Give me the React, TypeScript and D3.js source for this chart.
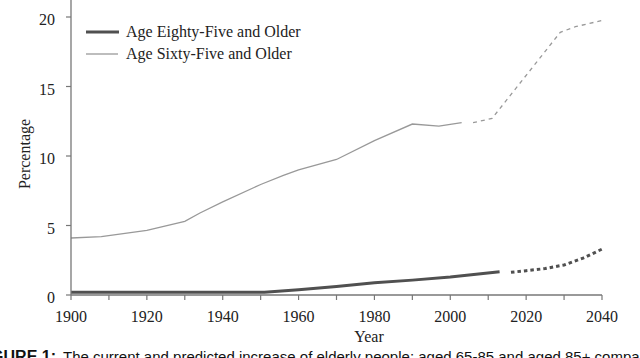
import React from "react";
import * as d3 from "d3";

// percentage of population
const years65 = [1900, 1908, 1920, 1930, 1934, 1940, 1950, 1956, 1960, 1970, 1980, 1990, 1997, 2003];
const values65 = [4.1, 4.2, 4.65, 5.3, 5.9, 6.7, 7.95, 8.6, 9.0, 9.75, 11.1, 12.3, 12.15, 12.4];
const projYears65 = [2006, 2011, 2029, 2033, 2040];
const projValues65 = [12.4, 12.7, 18.9, 19.3, 19.75];

const years85 = [1900, 1951, 1960, 1970, 1980, 1990, 2000, 2013];
const values85 = [0.2, 0.2, 0.38, 0.62, 0.88, 1.07, 1.3, 1.68];
const projYears85 = [2016, 2020, 2025, 2030, 2035, 2040];
const projValues85 = [1.63, 1.75, 1.9, 2.16, 2.65, 3.3];

const xTicks = [1900, 1910, 1920, 1930, 1940, 1950, 1960, 1970, 1980, 1990, 2000, 2010, 2020, 2030, 2040];
const xLabels = [1900, 1920, 1940, 1960, 1980, 2000, 2020, 2040];
const yTicks = [0, 5, 10, 15, 20];

const legendLabels = ["Age Eighty-Five and Older", "Age Sixty-Five and Older"];

export default function App() {
  const width = 640;
  const height = 358;
  const x = d3.scaleLinear().domain([1900, 2040]).range([71, 602]);
  const y = d3.scaleLinear().domain([0, 20]).range([295, 17]);

  const toPts = (xs: number[], vs: number[]) => xs.map((yr, i) => [yr, vs[i]] as [number, number]);
  const line = d3
    .line<[number, number]>()
    .x((d) => x(d[0]))
    .y((d) => y(d[1]));

  const serif = "'Liberation Serif', 'Times New Roman', serif";
  const sans = "'Liberation Sans', Arial, sans-serif";
  const axisColor = "#777";

  return (
    <svg
      width={width}
      height={height}
      style={{ position: "absolute", left: 0, top: 0, background: "#fff" }}
    >
      {/* series */}
      <path d={line(toPts(years65, values65)) || ""} fill="none" stroke="#999" strokeWidth={1.3} />
      <path
        d={line(toPts(projYears65, projValues65)) || ""}
        fill="none"
        stroke="#999"
        strokeWidth={1.3}
        strokeDasharray="4 4"
      />
      <path d={line(toPts(years85, values85)) || ""} fill="none" stroke="#505050" strokeWidth={3} />
      <path
        d={line(toPts(projYears85, projValues85)) || ""}
        fill="none"
        stroke="#505050"
        strokeWidth={3}
        strokeDasharray="3.5 3"
      />

      {/* axes */}
      <line x1={x(1900)} x2={x(1900)} y1={0} y2={y(0)} stroke={axisColor} strokeWidth={1.3} />
      <line x1={x(1900)} x2={x(2040)} y1={y(0)} y2={y(0)} stroke={axisColor} strokeWidth={1.3} />
      {yTicks.map((t) => (
        <g key={"y" + t}>
          <line x1={x(1900) - 5} x2={x(1900)} y1={y(t)} y2={y(t)} stroke={axisColor} strokeWidth={1.2} />
          <text x={55} y={y(t) + 8} textAnchor="end" fontFamily={serif} fontSize={16} fill="#222">
            {t}
          </text>
        </g>
      ))}
      {xTicks.map((t) => (
        <line key={"x" + t} x1={x(t)} x2={x(t)} y1={y(0)} y2={y(0) + 5} stroke={axisColor} strokeWidth={1.2} />
      ))}
      {xLabels.map((t) => (
        <text key={"xl" + t} x={x(t)} y={322} textAnchor="middle" fontFamily={serif} fontSize={16} fill="#222">
          {t}
        </text>
      ))}
      <text x={369} y={342} textAnchor="middle" fontFamily={serif} fontSize={16} fill="#222">
        Year
      </text>
      <text
        transform="translate(30,154) rotate(-90)"
        textAnchor="middle"
        fontFamily={serif}
        fontSize={16}
        fill="#222"
      >
        Percentage
      </text>

      {/* legend */}
      <line x1={86} x2={119} y1={32} y2={32} stroke="#505050" strokeWidth={3} />
      <text x={126} y={37} fontFamily={serif} fontSize={16} fill="#222">
        {legendLabels[0]}
      </text>
      <line x1={86} x2={118} y1={54} y2={54} stroke="#999" strokeWidth={1.3} />
      <text x={126} y={59} fontFamily={serif} fontSize={16} fill="#222">
        {legendLabels[1]}
      </text>

      {/* caption, cut at the bottom edge as in the source */}
      <text x={56} y={362} textAnchor="end" fontFamily={sans} fontSize={16} fontWeight="bold" fill="#111">
        FIGURE 1:
      </text>
      <text x={63} y={362} fontFamily={sans} fontSize={15} fill="#111">
        The current and predicted increase of elderly people: aged 65-85 and aged 85+ compared
      </text>
    </svg>
  );
}
